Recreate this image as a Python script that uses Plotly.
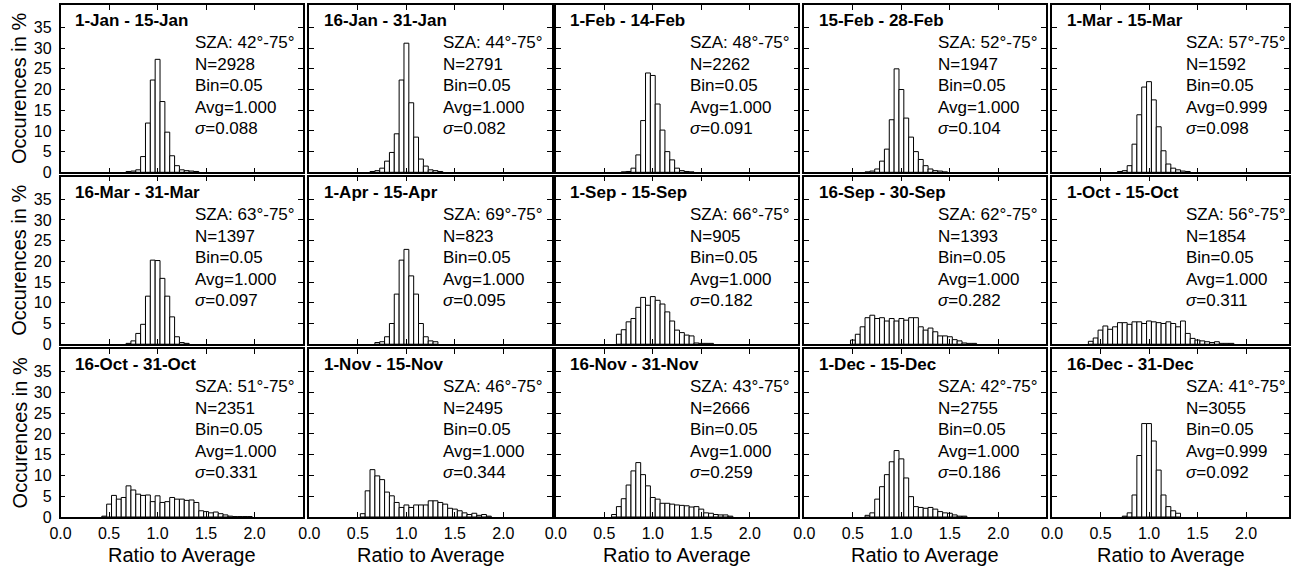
import plotly.graph_objects as go

W, H = 1291, 567

# ---------------- data ----------------
titles = ["1-Jan - 15-Jan", "16-Jan - 31-Jan", "1-Feb - 14-Feb", "15-Feb - 28-Feb", "1-Mar - 15-Mar",
          "16-Mar - 31-Mar", "1-Apr - 15-Apr", "1-Sep - 15-Sep", "16-Sep - 30-Sep", "1-Oct - 15-Oct",
          "16-Oct - 31-Oct", "1-Nov - 15-Nov", "16-Nov - 31-Nov", "1-Dec - 15-Dec", "16-Dec - 31-Dec"]
sza_min = [42, 44, 48, 52, 57, 63, 69, 66, 62, 56, 51, 46, 43, 42, 41]
sza_max = 75
n_obs = [2928, 2791, 2262, 1947, 1592, 1397, 823, 905, 1393, 1854, 2351, 2495, 2666, 2755, 3055]
avg_vals = ["1.000", "1.000", "1.000", "1.000", "0.999", "1.000", "1.000", "1.000", "1.000", "1.000",
            "1.000", "1.000", "1.000", "1.000", "0.999"]
sigma_vals = ["0.088", "0.082", "0.091", "0.104", "0.098", "0.097", "0.095", "0.182", "0.282", "0.311",
              "0.331", "0.344", "0.259", "0.186", "0.092"]

BIN = 0.05
# centre of first bin for each panel
bin_start = [0.70, 0.65, 0.70, 0.65, 0.70, 0.70, 0.70, 0.65, 0.50, 0.40, 0.45, 0.55, 0.60, 0.65, 0.75]

jan01_pct = [0.2, 0.3, 0.6, 3.8, 11.9, 22.3, 27.3, 17.1, 9.7, 4.0, 1.6, 0.6, 0.4, 0.3, 0.2]
jan16_pct = [0.2, 0.4, 1.0, 2.7, 4.8, 9.3, 22.3, 31.2, 16.8, 8.5, 3.2, 1.5, 0.6, 0.4, 0.2]
feb01_pct = [0.1, 0.2, 1.0, 4.2, 12.5, 24.0, 23.4, 16.5, 10.2, 5.0, 3.0, 1.0, 0.4, 0.2, 0.1]
feb15_pct = [0.1, 0.3, 0.8, 2.7, 5.6, 12.7, 25.0, 20.0, 13.1, 8.5, 5.0, 3.1, 1.6, 0.8, 0.4, 0.3, 0.1]
mar01_pct = [0.2, 0.4, 1.6, 6.8, 13.9, 20.6, 21.9, 17.5, 11.0, 5.2, 2.0, 1.0, 0.6, 0.3, 0.2]
mar16_pct = [0.2, 0.8, 2.6, 4.8, 11.6, 20.3, 20.2, 15.9, 11.6, 6.6, 1.8, 0.4, 0.2]
apr01_pct = [0.4, 0.6, 1.8, 5.0, 12.1, 20.3, 22.9, 16.5, 12.1, 5.0, 1.8, 0.8, 0.6]
sep01_pct = [2.4, 3.5, 5.4, 6.2, 8.9, 11.3, 9.4, 11.5, 10.6, 9.7, 7.8, 5.6, 3.4, 2.8, 2.2, 2.0,
             0.3, 0.2, 0.2, 0.2]
sep16_pct = [1.0, 2.4, 4.2, 6.4, 7.0, 6.2, 6.4, 5.6, 6.2, 5.6, 6.2, 5.8, 6.4, 6.4, 4.2, 3.4, 3.9,
             3.0, 2.0, 2.0, 1.8, 1.1, 0.8, 0.3, 0.2, 0.2]
oct01_pct = [0.7, 1.5, 3.4, 4.4, 3.6, 4.2, 5.2, 5.2, 4.8, 5.4, 5.4, 5.0, 5.6, 5.4, 5.2, 5.0, 5.4,
             5.0, 4.2, 5.6, 2.6, 1.4, 1.0, 0.8, 0.6, 0.4, 0.6, 0.2, 0.2, 0.2]
oct16_pct = [0.2, 3.1, 5.2, 4.3, 4.7, 7.5, 6.5, 5.5, 5.2, 5.3, 3.7, 5.1, 3.5, 3.7, 4.7, 4.3, 4.3,
             4.0, 4.1, 3.5, 1.5, 1.3, 1.0, 1.2, 0.8, 0.5, 0.2, 0.1, 0.1, 0.1, 0.1]
nov01_pct = [0.8, 6.3, 11.4, 9.9, 9.0, 6.0, 5.1, 3.5, 2.3, 2.9, 2.3, 2.9, 2.9, 2.9, 3.9, 3.9, 3.5,
             3.1, 2.1, 1.9, 1.5, 1.0, 0.6, 0.9, 0.4, 0.6, 0.2]
nov16_pct = [0.6, 2.5, 4.4, 7.7, 11.1, 13.1, 10.2, 7.5, 4.7, 4.3, 3.3, 3.3, 3.1, 2.9, 2.8, 2.7, 2.4,
             2.5, 1.9, 1.0, 0.9, 0.6, 0.5, 0.5, 0.2]
dec01_pct = [0.4, 1.0, 4.3, 7.3, 10.2, 13.3, 16.0, 14.0, 9.4, 4.9, 2.5, 2.3, 2.1, 2.3, 1.9, 1.3, 1.0,
             0.9, 0.5, 0.2, 0.2]
dec16_pct = [0.2, 1.0, 5.3, 14.8, 22.5, 22.5, 18.3, 11.3, 5.3, 2.5, 1.5, 0.9]

panel_pct = [jan01_pct, jan16_pct, feb01_pct, feb15_pct, mar01_pct, mar16_pct, apr01_pct, sep01_pct,
             sep16_pct, oct01_pct, oct16_pct, nov01_pct, nov16_pct, dec01_pct, dec16_pct]

x_tickvals = [0, 0.5, 1.0, 1.5, 2.0]
x_ticktext = ["0.0", "0.5", "1.0", "1.5", "2.0"]
y_tickvals = [0, 5, 10, 15, 20, 25, 30, 35]

# ---------------- layout geometry (pixels) ----------------
cols = [(60.6, 303.1), (309.4, 551.9), (555.8, 798.3), (804.4, 1046.0), (1052.0, 1289.0)]
rows = [(4.7, 172.3), (176.5, 344.2), (348.8, 517.0)]
PX_PER_UNIT = 97.0
Y_MAX = 40.5

FONT = "Liberation Sans, Arial, Helvetica, sans-serif"


def px(xp):
    return xp / W


def py(yp):
    return 1 - yp / H


fig = go.Figure()
annotations = []
layout_axes = {}

for i in range(15):
    r, c = divmod(i, 5)
    n = i + 1
    sfx = "" if n == 1 else str(n)
    pct = panel_pct[i]
    xs = [round(bin_start[i] + BIN * k, 3) for k in range(len(pct))]
    fig.add_trace(go.Bar(
        x=xs, y=pct, width=BIN,
        marker=dict(color="white", line=dict(color="black", width=1)),
        xaxis="x" + sfx, yaxis="y" + sfx, hoverinfo="x+y",
    ))
    x0, x1 = cols[c]
    y0, y1 = rows[r]
    layout_axes["xaxis" + sfx] = dict(
        domain=[px(x0), px(x1)], range=[0, (x1 - x0) / PX_PER_UNIT], anchor="y" + sfx,
        tickvals=x_tickvals, ticktext=x_ticktext, showticklabels=(r == 2),
        ticks="inside", ticklen=5, tickwidth=1, tickcolor="black",
        showline=True, linecolor="black", linewidth=1.6, mirror="ticks",
        showgrid=False, zeroline=False, fixedrange=True, automargin=False,
        tickfont=dict(family=FONT, size=16, color="black"), ticklabelstandoff=1,
    )
    layout_axes["yaxis" + sfx] = dict(
        domain=[py(y1), py(y0)], range=[0, Y_MAX], anchor="x" + sfx,
        tickvals=y_tickvals, showticklabels=(c == 0),
        ticks="inside", ticklen=5, tickwidth=1, tickcolor="black",
        showline=True, linecolor="black", linewidth=1.6, mirror="ticks",
        showgrid=False, zeroline=False, fixedrange=True, automargin=False,
        tickfont=dict(family=FONT, size=16, color="black"), ticklabelstandoff=4,
    )
    # panel title
    annotations.append(dict(
        text="<b>%s</b>" % titles[i], x=px(x0 + 12.5), y=py(y0 + 16),
        xref="paper", yref="paper", xanchor="left", yanchor="middle", showarrow=False,
        font=dict(family=FONT, size=17, color="black"),
    ))
    stats = [
        "SZA: %d°-%d°" % (sza_min[i], sza_max),
        "N=%d" % n_obs[i],
        "Bin=%.2f" % BIN,
        "Avg=%s" % avg_vals[i],
        "<i>σ</i>=%s" % sigma_vals[i],
    ]
    offsets = [38, 59.5, 81, 102.5, 124]
    for s, off in zip(stats, offsets):
        annotations.append(dict(
            text=s, x=px(x0 + 132), y=py(y0 + off),
            xref="paper", yref="paper", xanchor="left", yanchor="middle", showarrow=False,
            font=dict(family=FONT, size=17, color="black"),
        ))

# y-axis titles
for (y0, y1) in rows:
    annotations.append(dict(
        text="Occurences in %", x=px(19.5), y=py((y0 + y1) / 2), textangle=-90,
        xref="paper", yref="paper", xanchor="center", yanchor="middle", showarrow=False,
        font=dict(family=FONT, size=20, color="black"),
    ))
# x-axis titles
for (x0, x1) in cols:
    annotations.append(dict(
        text="Ratio to Average", x=px((x0 + x1) / 2), y=py(555),
        xref="paper", yref="paper", xanchor="center", yanchor="middle", showarrow=False,
        font=dict(family=FONT, size=20, color="black"),
    ))

fig.update_layout(
    template="none",
    width=W, height=H, margin=dict(l=0, r=0, t=0, b=0, pad=0),
    paper_bgcolor="white", plot_bgcolor="white", showlegend=False,
    barmode="overlay", annotations=annotations,
    font=dict(family=FONT, color="black"),
    **layout_axes,
)

fig.write_html("out.html", config={"displayModeBar": False},
               post_script="document.body.style.margin='0px';document.body.style.overflow='hidden';")
